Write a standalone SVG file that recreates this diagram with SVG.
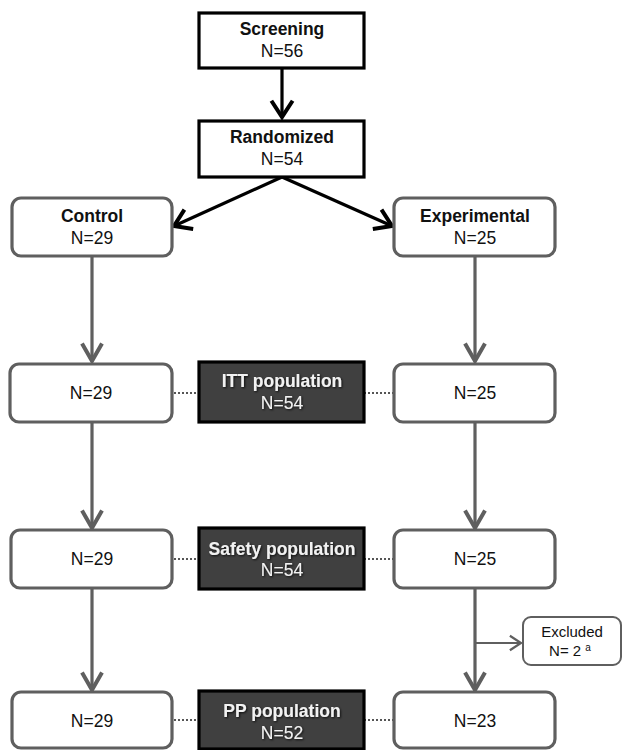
<svg xmlns="http://www.w3.org/2000/svg" width="623" height="750" viewBox="0 0 623 750">
<defs>
  <marker id="ab" markerUnits="userSpaceOnUse" markerWidth="30" markerHeight="30" refX="0" refY="0" viewBox="-16 -12 20 24" orient="auto">
    <path d="M-13,-8.5 L0,0 L-13,8.5" fill="none" stroke="#000" stroke-width="3.2"/>
  </marker>
  <marker id="ag" markerUnits="userSpaceOnUse" markerWidth="30" markerHeight="30" refX="0" refY="0" viewBox="-16 -12 20 24" orient="auto">
    <path d="M-14,-8 L0,0 L-14,8" fill="none" stroke="#5f5f5f" stroke-width="3.2"/>
  </marker>
  <marker id="as" markerUnits="userSpaceOnUse" markerWidth="20" markerHeight="20" refX="0" refY="0" viewBox="-12 -9 14 18" orient="auto">
    <path d="M-10,-6.5 L0,0 L-10,6.5" fill="none" stroke="#5f5f5f" stroke-width="2"/>
  </marker>
  <filter id="sh" x="-10%" y="-20%" width="120%" height="140%">
    <feDropShadow dx="1" dy="1" stdDeviation="0.8" flood-color="#000" flood-opacity="0.8"/>
  </filter>
</defs>
<style>
  text { font-family: "Liberation Sans", Arial, sans-serif; font-size: 17.5px; text-anchor: middle; fill: #111; }
  .b { font-weight: bold; }
  .w { fill: #f2f2f2; }
  .sq { fill: #fff; stroke: #000; stroke-width: 3.2; }
  .rb { fill: #fff; stroke: #5f5f5f; stroke-width: 3.2; }
  .dk { fill: #404040; stroke: #000; stroke-width: 3.2; }
  .ex { fill: #fff; stroke: #5f5f5f; stroke-width: 2; }
  .lb { stroke: #000; stroke-width: 3.2; fill: none; }
  .lg { stroke: #5f5f5f; stroke-width: 3.2; fill: none; }
  .ls { stroke: #5f5f5f; stroke-width: 2; fill: none; }
  .dt { stroke: #555; stroke-width: 2; stroke-dasharray: 2 2; fill: none; }
  .sm { font-size: 15px; }
</style>
<g id="connectors">
  <line class="lb" x1="282" y1="68" x2="282" y2="117" marker-end="url(#ab)"/>
  <line class="lb" x1="282" y1="177" x2="174" y2="226" marker-end="url(#ab)"/>
  <line class="lb" x1="282" y1="177" x2="392" y2="226" marker-end="url(#ab)"/>
  <line class="lg" x1="92" y1="256" x2="92" y2="361" marker-end="url(#ag)"/>
  <line class="lg" x1="92" y1="422" x2="92" y2="528" marker-end="url(#ag)"/>
  <line class="lg" x1="92" y1="588" x2="92" y2="690" marker-end="url(#ag)"/>
  <line class="lg" x1="475" y1="256" x2="475" y2="361" marker-end="url(#ag)"/>
  <line class="lg" x1="475" y1="422" x2="475" y2="528" marker-end="url(#ag)"/>
  <line class="lg" x1="475" y1="588" x2="475" y2="690" marker-end="url(#ag)"/>
  <line class="ls" x1="475" y1="643" x2="521" y2="643" marker-end="url(#as)"/>
  <line class="dt" x1="174" y1="393" x2="199" y2="393"/>
  <line class="dt" x1="364" y1="393" x2="393" y2="393"/>
  <line class="dt" x1="174" y1="559" x2="199" y2="559"/>
  <line class="dt" x1="364" y1="559" x2="393" y2="559"/>
  <line class="dt" x1="174" y1="720" x2="199" y2="720"/>
  <line class="dt" x1="364" y1="720" x2="393" y2="720"/>
</g>
<g id="screening">
  <rect class="sq" x="199" y="13" width="165" height="55"/>
  <text class="b" x="282" y="35">Screening</text>
  <text x="282" y="57">N=56</text>
</g>
<g id="randomized">
  <rect class="sq" x="199" y="121" width="165" height="56"/>
  <text class="b" x="282" y="143">Randomized</text>
  <text x="282" y="165">N=54</text>
</g>
<g id="control">
  <rect class="rb" x="12" y="198" width="160" height="58" rx="9"/>
  <text class="b" x="92" y="222">Control</text>
  <text x="92" y="244">N=29</text>
</g>
<g id="experimental">
  <rect class="rb" x="394" y="198" width="161" height="58" rx="9"/>
  <text class="b" x="475" y="222">Experimental</text>
  <text x="475" y="244">N=25</text>
</g>
<g id="itt-control">
  <rect class="rb" x="10" y="364" width="162" height="58" rx="9"/>
  <text x="91" y="399">N=29</text>
</g>
<g id="itt">
  <rect class="dk" x="199" y="362" width="165" height="60"/>
  <text class="b w" x="282" y="387" filter="url(#sh)">ITT population</text>
  <text class="w" x="282" y="409" filter="url(#sh)">N=54</text>
</g>
<g id="itt-exp">
  <rect class="rb" x="394" y="364" width="161" height="58" rx="9"/>
  <text x="475" y="399">N=25</text>
</g>
<g id="safety-control">
  <rect class="rb" x="11" y="530" width="161" height="58" rx="9"/>
  <text x="92" y="565">N=29</text>
</g>
<g id="safety">
  <rect class="dk" x="199" y="528" width="165" height="61"/>
  <text class="b w" x="282" y="555" filter="url(#sh)">Safety population</text>
  <text class="w" x="282" y="576" filter="url(#sh)">N=54</text>
</g>
<g id="safety-exp">
  <rect class="rb" x="394" y="530" width="161" height="58" rx="9"/>
  <text x="475" y="565">N=25</text>
</g>
<g id="excluded">
  <rect class="ex" x="523" y="617" width="98" height="48" rx="8"/>
  <text class="sm" x="572" y="637">Excluded</text>
  <text class="sm" x="570" y="656">N= 2 <tspan font-size="10" dy="-5">a</tspan></text>
</g>
<g id="pp-control">
  <rect class="rb" x="12" y="692" width="160" height="56" rx="9"/>
  <text x="92" y="727">N=29</text>
</g>
<g id="pp">
  <rect class="dk" x="199" y="691" width="165" height="58"/>
  <text class="b w" x="282" y="717" filter="url(#sh)">PP population</text>
  <text class="w" x="282" y="739" filter="url(#sh)">N=52</text>
</g>
<g id="pp-exp">
  <rect class="rb" x="394" y="692" width="161" height="56" rx="9"/>
  <text x="475" y="727">N=23</text>
</g>
</svg>
